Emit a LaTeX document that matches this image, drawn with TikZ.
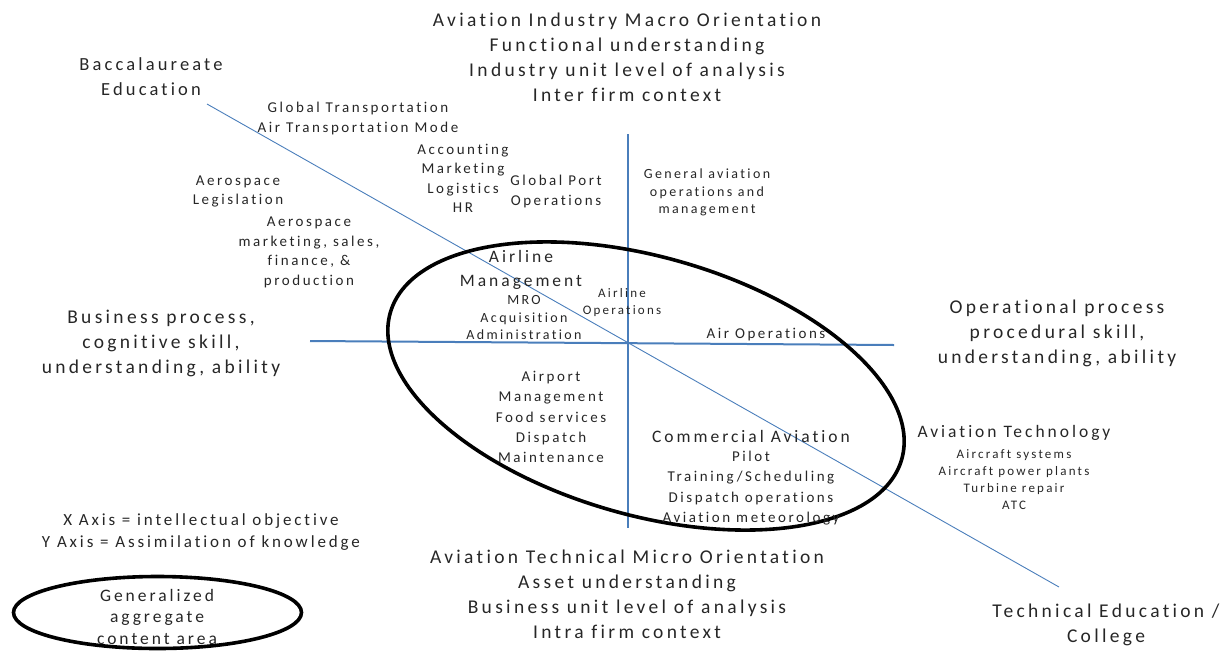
\documentclass[tikz,border=0pt]{standalone}
\usepackage{fontspec}
\setmainfont{Carlito}[LetterSpace=17, Ligatures=NoCommon]
\definecolor{axisblue}{HTML}{4A7EBB}
\tikzset{
  txt/.style={align=center, inner sep=0pt, text=black!85},
  fA/.style={font=\fontsize{19.5}{25}\selectfont},
  fBa/.style={font=\fontsize{18.5}{25}\selectfont},
  fB/.style={font=\fontsize{17.5}{24}\selectfont},
  fX/.style={font=\fontsize{17}{22}\selectfont},
  fG/.style={font=\fontsize{17.5}{21.5}\selectfont},
  fC/.style={font=\fontsize{15}{19.5}\selectfont},
  fCw/.style={font=\fontsize{15}{20.2}\selectfont},
  fD/.style={font=\fontsize{14}{17.5}\selectfont},
  fE/.style={font=\fontsize{13}{17}\selectfont},
  axis/.style={draw=axisblue, line width=2pt},
  diag/.style={draw=axisblue, line width=0.9pt},
  blob/.style={draw=black, line width=3.6pt},
}
\begin{document}
\begin{tikzpicture}[x=1pt,y=-1pt]
\useasboundingbox (0,0) rectangle (1222,651);

% axes
\coordinate (vt) at (628,134);
\coordinate (vb) at (628,528);
\coordinate (hl) at (310,341);
\coordinate (hr) at (894,345);
\coordinate (dl) at (207,104);
\coordinate (dr) at (1059,587);
\draw[axis] (vt) -- (vb);
\draw[axis] (hl) -- (hr);
\draw[diag] (dl) -- (dr);

% big ellipse
\coordinate (ec) at (646,386);
\draw[blob, rotate around={-16:(ec)}] (ec) ellipse [x radius=266pt, y radius=129pt];

% small ellipse
\coordinate (sc) at (157.5,612.5);
\draw[blob] (sc) ellipse [x radius=144pt, y radius=36pt];

% texts
\node[txt,fA] (top) at (627,57) {Aviation Industry Macro Orientation\\Functional understanding\\Industry unit level of analysis\\Inter firm context};
\node[txt,fA] (bot) at (627,594) {Aviation Technical Micro Orientation\\Asset understanding\\Business unit level of analysis\\Intra firm context};
\node[txt,fBa] (bacc) at (151,77) {Baccalaureate\\Education};
\node[txt,fA] (bus) at (161,343) {Business process,\\cognitive skill,\\understanding, ability};
\node[txt,fA] (ops) at (1057,333) {Operational process\\procedural skill,\\understanding, ability};
\node[txt,fA] (tech) at (1106,625) {Technical Education /\\College};
\node[txt,fG] (gen) at (157,616.5) {Generalized\\aggregate\\content area};
\node[txt,fX] (xy) at (201,532) {X Axis = intellectual objective\\Y Axis = Assimilation of knowledge};

\node[txt,fC] (glob) at (358,118.5) {Global Transportation\\Air Transportation Mode};
\node[txt,fC] (acc) at (463,178.5) {Accounting\\Marketing\\Logistics\\HR};
\node[txt,fC] (port) at (556,191.5) {Global Port\\Operations};
\node[txt,fD] (ga) at (707,192.5) {General aviation\\operations and\\management};
\node[txt,fC] (leg) at (238,191.5) {Aerospace\\Legislation};
\node[txt,fC] (mkt) at (309,252.5) {Aerospace\\marketing, sales,\\finance, \&\\production};
\node[txt,fB] (am) at (521,270) {Airline\\Management};
\node[txt,fD] (mro) at (524,318) {MRO\\Acquisition\\Administration};
\node[txt,fE] (aop) at (622,302.5) {Airline\\Operations};
\node[txt,fC] (airops) at (766,335) {Air Operations};
\node[txt,fCw] (apt) at (551,417) {Airport\\Management\\Food services\\Dispatch\\Maintenance};
\node[txt,fB] (ca) at (751,436) {Commercial Aviation};
\node[txt,fCw] (cal) at (751,488) {Pilot\\Training/Scheduling\\Dispatch operations\\Aviation meteorology};
\node[txt,fB] (at) at (1014,433) {Aviation Technology};
\node[txt,fE] (atl) at (1014,479.5) {Aircraft systems\\Aircraft power plants\\Turbine repair\\ATC};
\end{tikzpicture}
\end{document}
